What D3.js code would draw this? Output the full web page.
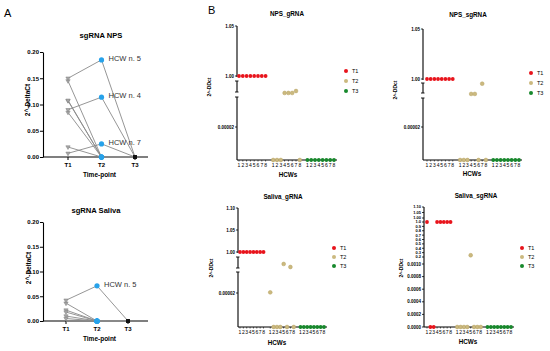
<!DOCTYPE html>
<html>
<head>
<meta charset="utf-8">
<script src="https://cdn.jsdelivr.net/npm/d3@7"></script>
<style>
  body { margin: 0; background: #fff; }
  svg { display: block; font-family: "Liberation Sans", Arial, sans-serif; }
</style>
</head>
<body>
<div id="chart"></div>
<script>
// ---------------------------//
//       DATA                 //
// ---------------------------//
const timePoints = ["T1", "T2", "T3"];
const hcwIds = [1, 2, 3, 4, 5, 6, 7, 8];
const deltaTicks = [0, 0.05, 0.10, 0.15, 0.20];

// panel A - 2^-DeltaCt per HCW (index = HCW - 1)
const npsT1 = [0.145, 0.107, 0.085, 0.090, 0.150, 0.019, 0.007, 0.108];
const npsT2 = [0, 0, 0, 0.114, 0.185, 0, 0.025, 0];
const npsT3 = [0, 0, 0, 0, 0, 0, 0, 0];
const npsLabelled = [5, 4, 7];

const salivaT1 = [0.036, 0, 0, 0.022, 0.042, 0.018, 0.010, 0.005];
const salivaT2 = [0, 0, 0, 0, 0.071, 0, 0, 0];
const salivaT3 = [0, 0, 0, 0, 0, 0, 0, 0];
const salivaLabelled = [5];

// panel B - 2^-DDct per HCW
const npsGrnaT1 = [1, 1, 1, 1, 1, 1, 1, 1];
const npsGrnaT2 = [0, 0, 0, 0.25, 0.25, 0.25, 0.37, 0];
const npsGrnaT3 = [0, 0, 0, 0, 0, 0, 0, 0];

const npsSgrnaT1 = [1, 1, 1, 1, 1, 1, 1, 1];
const npsSgrnaT2 = [0, 0, 0, 0.27, 0.27, 0, 0.95, 0];
const npsSgrnaT3 = [0, 0, 0, 0, 0, 0, 0, 0];

const salivaGrnaT1 = [1, 1, 1, 1, 1, 1, 1, 1];
const salivaGrnaT2 = [0.0000206, 0, 0, 0, 0.53, 0, 0.33, 0];
const salivaGrnaT3 = [0, 0, 0, 0, 0, 0, 0, 0];

const salivaSgrnaT1 = [1, 0, 0, 1, 1, 1, 1, 1];
const salivaSgrnaT2 = [0, 0, 0, 0, 0.24, 0, 0, 0];
const salivaSgrnaT3 = [0, 0, 0, 0, 0, 0, 0, 0];

const npsUpperTicks = [0.00002, 1.00, 1.05];
const salivaUpperTicks = [0.00002, 1.00, 1.05, 1.10];
const sgLowTicks = [0, 0.0002, 0.0004, 0.0006, 0.0008, 0.0010];
const sgMidTicks = [0.2, 0.3, 0.4, 0.5, 0.6, 0.7, 0.8, 0.9, 1.0];
const sgTopTicks = [1.00, 1.05, 1.10];

const groupColors = ["#e8141c", "#cbb97f", "#17892c"];

let svg = d3.select("#chart")
    .append("svg")
    .attr("width", 550)
    .attr("height", 351);

svg.append("text").attr("x", 4).attr("y", 17).style("font-size", "11px").text("A");
svg.append("text").attr("x", 208).attr("y", 14).style("font-size", "11px").text("B");

// ---------------------------//
//       PANEL A              //
// ---------------------------//
function drawA(cfg) {
    let g = svg.append("g");
    let x = d3.scalePoint().domain(timePoints).range(cfg.xRange);
    let y = d3.scaleLinear().domain([0, 0.2]).range([cfg.yBottom, cfg.yTop]);

    // y axis
    let ya = g.append("g")
        .attr("transform", "translate(" + cfg.axisX + ",0)")
        .call(d3.axisLeft(y).tickValues(deltaTicks).tickFormat(d3.format(".2f")).tickSize(3).tickSizeOuter(0));
    ya.select(".domain").attr("stroke", "#000").attr("stroke-width", 1.1);
    ya.selectAll("text").style("font-size", "6px").style("font-weight", "bold").attr("x", -4);

    // x axis
    g.append("line")
        .attr("x1", cfg.axisX).attr("x2", cfg.xEnd)
        .attr("y1", cfg.yBottom).attr("y2", cfg.yBottom)
        .attr("stroke", "#000").attr("stroke-width", 1.1);
    g.selectAll(".xt").data(timePoints).enter().append("line")
        .attr("x1", d => x(d)).attr("x2", d => x(d))
        .attr("y1", cfg.yBottom).attr("y2", cfg.yBottom + 3)
        .attr("stroke", "#000");
    g.selectAll(".xl").data(timePoints).enter().append("text")
        .attr("x", d => x(d)).attr("y", cfg.yBottom + 10)
        .attr("text-anchor", "middle")
        .style("font-size", "6px").style("font-weight", "bold")
        .text(d => d);

    let rows = hcwIds.map((id, i) => ({ id: id, vals: cfg.series.map(s => s[i]) }));

    let line = d3.line()
        .x((v, j) => x(timePoints[j]))
        .y(v => y(v));

    g.selectAll(".hcw").data(rows).enter().append("path")
        .attr("d", d => line(d.vals))
        .attr("fill", "none")
        .attr("stroke", "#8a8a8a")
        .attr("stroke-width", 0.9);

    // T3 points
    g.selectAll(".p3").data(rows).enter().append("circle")
        .attr("cx", x("T3")).attr("cy", d => y(d.vals[2]))
        .attr("r", 2).attr("fill", "#111");

    // T1 points (down triangles)
    g.selectAll(".p1").data(rows.filter(d => d.vals[0] > 0)).enter().append("path")
        .attr("d", d3.symbol(d3.symbolTriangle, 8))
        .attr("transform", d => "translate(" + x("T1") + "," + y(d.vals[0]) + ") rotate(180)")
        .attr("fill", "#a8a8a8")
        .attr("stroke", "#7a7a7a")
        .attr("stroke-width", 0.5);

    // T2 points
    g.selectAll(".p2").data(rows).enter().append("circle")
        .attr("cx", x("T2")).attr("cy", d => y(d.vals[1]))
        .attr("r", 2.6).attr("fill", "#27a2ea");

    // HCW labels
    g.selectAll(".lab").data(rows.filter(d => cfg.labelled.includes(d.id))).enter().append("text")
        .attr("x", x("T2") + 7)
        .attr("y", d => y(d.vals[1]) + 1)
        .style("font-size", "7.5px")
        .style("fill", "#333")
        .text(d => "HCW n. " + d.id);

    g.append("text")
        .attr("x", cfg.titleX).attr("y", cfg.titleY)
        .attr("text-anchor", "middle")
        .style("font-size", "7.6px").style("font-weight", "bold")
        .text(cfg.title);
    g.append("text")
        .attr("x", (cfg.axisX + cfg.xEnd) / 2 + 4).attr("y", cfg.yBottom + 20)
        .attr("text-anchor", "middle")
        .style("font-size", "6.5px").style("font-weight", "bold")
        .text("Time-point");
    g.append("text")
        .attr("transform", "translate(" + cfg.yLabelX + "," + cfg.yLabelY + ") rotate(-90)")
        .attr("text-anchor", "middle")
        .style("font-size", "6.5px").style("font-weight", "bold")
        .text("2^-DeltaCt");
}

drawA({
    title: "sgRNA NPS", titleX: 101, titleY: 38,
    axisX: 43, xEnd: 148, yBottom: 157, yTop: 52, xRange: [68, 135],
    series: [npsT1, npsT2, npsT3], labelled: npsLabelled,
    yLabelX: 30, yLabelY: 100
});
drawA({
    title: "sgRNA Saliva", titleX: 96, titleY: 213,
    axisX: 43, xEnd: 148, yBottom: 321, yTop: 222, xRange: [66, 128],
    series: [salivaT1, salivaT2, salivaT3], labelled: salivaLabelled,
    yLabelX: 31, yLabelY: 268
});

// ---------------------------//
//       PANEL B              //
// ---------------------------//
function drawB(cfg) {
    let g = svg.append("g");
    let x = d3.scaleLinear().domain([0, 25]).range(cfg.xRange);
    let y = d3.scaleLinear().domain(cfg.domain).range(cfg.range);

    // y axis pieces (broken axis)
    cfg.pieces.forEach((p, k) => {
        g.append("line")
            .attr("x1", cfg.axisX).attr("x2", cfg.axisX)
            .attr("y1", p[0]).attr("y2", p[1])
            .attr("stroke", "#000").attr("stroke-width", 1.1);
        if (k > 0) {
            g.append("line").attr("x1", cfg.axisX - 2).attr("x2", cfg.axisX + 1.5)
                .attr("y1", p[0]).attr("y2", p[0]).attr("stroke", "#000").attr("stroke-width", 0.9);
        }
        if (k > 0 && k < cfg.pieces.length - 1) {
            g.append("line").attr("x1", cfg.axisX - 2).attr("x2", cfg.axisX + 1.5)
                .attr("y1", p[1]).attr("y2", p[1]).attr("stroke", "#000").attr("stroke-width", 0.9);
        }
    });

    cfg.tickSets.forEach(ts => {
        let sc = ts.scale || y;
        g.selectAll(null).data(ts.values).enter().append("line")
            .attr("x1", cfg.axisX - 2).attr("x2", cfg.axisX)
            .attr("y1", d => sc(d)).attr("y2", d => sc(d))
            .attr("stroke", "#000").attr("stroke-width", 0.8);
        g.selectAll(null).data(ts.values).enter().append("text")
            .attr("x", cfg.axisX - 3).attr("y", d => sc(d))
            .attr("dy", "0.35em")
            .attr("text-anchor", "end")
            .style("font-size", ts.size || "4.5px").style("font-weight", "bold")
            .text(d => ts.fmt(d));
    });

    // x axis
    g.append("line")
        .attr("x1", cfg.axisX).attr("x2", cfg.xEnd)
        .attr("y1", cfg.yBottom).attr("y2", cfg.yBottom)
        .attr("stroke", "#000").attr("stroke-width", 1.1);

    let cells = [];
    cfg.series.forEach((s, gi) => {
        s.forEach((v, i) => cells.push({ group: gi, hcw: hcwIds[i], idx: gi * 9 + i, value: v }));
    });

    g.selectAll(".xt").data(cells).enter().append("line")
        .attr("x1", d => x(d.idx)).attr("x2", d => x(d.idx))
        .attr("y1", cfg.yBottom).attr("y2", cfg.yBottom + 1.5)
        .attr("stroke", "#000").attr("stroke-width", 0.6);
    g.selectAll(".xl").data(cells).enter().append("text")
        .attr("x", d => x(d.idx)).attr("y", cfg.yBottom + 6.5)
        .attr("text-anchor", "middle")
        .style("font-size", "5px")
        .text(d => d.hcw);

    g.selectAll(".dot").data(cells).enter().append("circle")
        .attr("cx", d => x(d.idx))
        .attr("cy", d => y(d.value))
        .attr("r", 1.9)
        .attr("fill", d => groupColors[d.group])
        .attr("stroke", d => d.group === 1 ? "#b7a263" : "none")
        .attr("stroke-width", 0.5);

    // legend
    g.selectAll(".lg").data(timePoints).enter().append("circle")
        .attr("cx", cfg.legendX).attr("cy", (d, i) => cfg.legendY + i * cfg.legendStep)
        .attr("r", 2).attr("fill", (d, i) => groupColors[i]);
    g.selectAll(".lt").data(timePoints).enter().append("text")
        .attr("x", cfg.legendX + 6).attr("y", (d, i) => cfg.legendY + i * cfg.legendStep)
        .attr("dy", "0.35em")
        .style("font-size", "5.5px")
        .text(d => d);

    g.append("text")
        .attr("x", cfg.titleX).attr("y", cfg.titleY)
        .attr("text-anchor", "middle")
        .style("font-size", "6.3px").style("font-weight", "bold")
        .text(cfg.title);
    g.append("text")
        .attr("x", cfg.hcwsX).attr("y", cfg.hcwsY)
        .attr("text-anchor", "middle")
        .style("font-size", "6.3px").style("font-weight", "bold")
        .text("HCWs");
    g.append("text")
        .attr("transform", "translate(" + cfg.yLabelX + "," + cfg.yLabelY + ") rotate(-90)")
        .attr("text-anchor", "middle")
        .style("font-size", "5px").style("font-weight", "bold")
        .text("2^-DDct");
}

let fmtBroken = d => d < 0.001 ? d3.format(".5f")(d) : d3.format(".2f")(d);

drawB({
    title: "NPS_gRNA", titleX: 287, titleY: 16,
    axisX: 237, xEnd: 337, yBottom: 160, xRange: [239, 334],
    domain: [0, 0.00002, 0.00004, 0.99, 1.0, 1.05],
    range: [160, 127, 97, 81, 76, 26],
    pieces: [[26, 77], [81, 92], [97, 160]],
    tickSets: [{ values: npsUpperTicks, fmt: fmtBroken }],
    series: [npsGrnaT1, npsGrnaT2, npsGrnaT3],
    legendX: 346, legendY: 71, legendStep: 10,
    yLabelX: 211, yLabelY: 87, hcwsX: 288, hcwsY: 177
});

drawB({
    title: "NPS_sgRNA", titleX: 468, titleY: 17,
    axisX: 423, xEnd: 522, yBottom: 160, xRange: [427, 519],
    domain: [0, 0.00002, 0.00004, 0.996, 1.0, 1.05],
    range: [160, 127, 98, 83, 79, 29],
    pieces: [[29, 80], [83, 93], [98, 160]],
    tickSets: [{ values: npsUpperTicks, fmt: fmtBroken }],
    series: [npsSgrnaT1, npsSgrnaT2, npsSgrnaT3],
    legendX: 531, legendY: 73, legendStep: 10,
    yLabelX: 397, yLabelY: 90, hcwsX: 472, hcwsY: 176
});

drawB({
    title: "Saliva_gRNA", titleX: 283, titleY: 199,
    axisX: 238, xEnd: 327, yBottom: 327, xRange: [240, 324],
    domain: [0, 0.00002, 0.00004, 0.99, 1.0, 1.10],
    range: [327, 293, 272, 257, 252, 208],
    pieces: [[208, 253], [257, 268], [272, 327]],
    tickSets: [{ values: salivaUpperTicks, fmt: fmtBroken }],
    series: [salivaGrnaT1, salivaGrnaT2, salivaGrnaT3],
    legendX: 334, legendY: 248, legendStep: 9,
    yLabelX: 213, yLabelY: 268, hcwsX: 277, hcwsY: 345
});

let sgTopScale = d3.scaleLinear().domain([1.0, 1.10]).range([218, 207]);
drawB({
    title: "Saliva_sgRNA", titleX: 476, titleY: 198,
    axisX: 424, xEnd: 514, yBottom: 327, xRange: [427, 511],
    domain: [0, 0.001, 0.2, 1.0],
    range: [327, 264, 257, 222],
    pieces: [[207, 327]],
    tickSets: [
        { values: sgLowTicks, fmt: d3.format(".4f") },
        { values: sgMidTicks, fmt: d3.format(".1f"), size: "4px" },
        { values: sgTopTicks, fmt: d3.format(".2f"), scale: sgTopScale, size: "4px" }
    ],
    series: [salivaSgrnaT1, salivaSgrnaT2, salivaSgrnaT3],
    legendX: 522, legendY: 248, legendStep: 9,
    yLabelX: 403, yLabelY: 268, hcwsX: 468, hcwsY: 344
});
</script>
</body>
</html>
